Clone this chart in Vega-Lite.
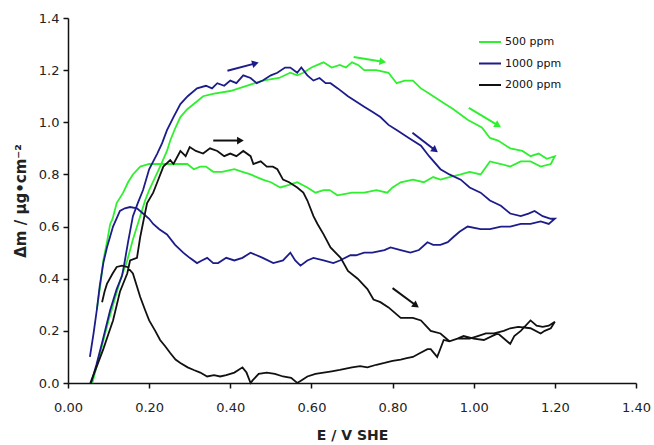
{
  "$schema": "https://vega.github.io/schema/vega-lite/v6.json",
  "width": 568,
  "height": 365,
  "autosize": {"type": "none"},
  "padding": {"left": 68, "top": 18, "right": 18, "bottom": 62},
  "background": "white",
  "config": {
    "view": {"stroke": null},
    "font": "DejaVu Sans",
    "axis": {"grid": false, "domainColor": "#111", "tickColor": "#111", "domainWidth": 1.5, "tickWidth": 1.5, "tickSize": 5, "labelColor": "#222", "labelFont": "DejaVu Sans", "labelFontSize": 13, "titleFont": "DejaVu Sans", "titleFontWeight": "bold", "titleFontSize": 15, "titleColor": "#222", "labelFlush": false}
  },
  "datasets": {
    "curves": [
      {"s":"500 ppm","x":0.06,"y":0.00},{"s":"500 ppm","x":0.07,"y":0.06},{"s":"500 ppm","x":0.085,"y":0.15},{"s":"500 ppm","x":0.10,"y":0.24},{"s":"500 ppm","x":0.115,"y":0.32},{"s":"500 ppm","x":0.13,"y":0.40},{"s":"500 ppm","x":0.146,"y":0.47},{"s":"500 ppm","x":0.16,"y":0.55},{"s":"500 ppm","x":0.178,"y":0.64},{"s":"500 ppm","x":0.19,"y":0.70},{"s":"500 ppm","x":0.20,"y":0.74},{"s":"500 ppm","x":0.215,"y":0.79},{"s":"500 ppm","x":0.227,"y":0.83},{"s":"500 ppm","x":0.244,"y":0.89},{"s":"500 ppm","x":0.252,"y":0.93},{"s":"500 ppm","x":0.265,"y":0.98},{"s":"500 ppm","x":0.277,"y":1.02},{"s":"500 ppm","x":0.294,"y":1.05},{"s":"500 ppm","x":0.31,"y":1.07},{"s":"500 ppm","x":0.333,"y":1.10},{"s":"500 ppm","x":0.36,"y":1.11},{"s":"500 ppm","x":0.40,"y":1.12},{"s":"500 ppm","x":0.44,"y":1.14},{"s":"500 ppm","x":0.48,"y":1.16},{"s":"500 ppm","x":0.52,"y":1.17},{"s":"500 ppm","x":0.548,"y":1.19},{"s":"500 ppm","x":0.565,"y":1.18},{"s":"500 ppm","x":0.58,"y":1.19},{"s":"500 ppm","x":0.60,"y":1.21},{"s":"500 ppm","x":0.615,"y":1.22},{"s":"500 ppm","x":0.63,"y":1.23},{"s":"500 ppm","x":0.65,"y":1.21},{"s":"500 ppm","x":0.67,"y":1.22},{"s":"500 ppm","x":0.685,"y":1.21},{"s":"500 ppm","x":0.70,"y":1.23},{"s":"500 ppm","x":0.715,"y":1.22},{"s":"500 ppm","x":0.73,"y":1.20},{"s":"500 ppm","x":0.76,"y":1.20},{"s":"500 ppm","x":0.79,"y":1.19},{"s":"500 ppm","x":0.81,"y":1.15},{"s":"500 ppm","x":0.83,"y":1.16},{"s":"500 ppm","x":0.85,"y":1.16},{"s":"500 ppm","x":0.87,"y":1.13},{"s":"500 ppm","x":0.89,"y":1.11},{"s":"500 ppm","x":0.92,"y":1.08},{"s":"500 ppm","x":0.95,"y":1.05},{"s":"500 ppm","x":0.985,"y":1.01},{"s":"500 ppm","x":1.02,"y":0.98},{"s":"500 ppm","x":1.04,"y":0.94},{"s":"500 ppm","x":1.06,"y":0.93},{"s":"500 ppm","x":1.09,"y":0.90},{"s":"500 ppm","x":1.12,"y":0.89},{"s":"500 ppm","x":1.14,"y":0.87},{"s":"500 ppm","x":1.16,"y":0.88},{"s":"500 ppm","x":1.18,"y":0.86},{"s":"500 ppm","x":1.20,"y":0.87},{"s":"500 ppm","x":1.19,"y":0.84},{"s":"500 ppm","x":1.165,"y":0.83},{"s":"500 ppm","x":1.14,"y":0.85},{"s":"500 ppm","x":1.116,"y":0.85},{"s":"500 ppm","x":1.09,"y":0.83},{"s":"500 ppm","x":1.067,"y":0.84},{"s":"500 ppm","x":1.04,"y":0.85},{"s":"500 ppm","x":1.017,"y":0.80},{"s":"500 ppm","x":0.99,"y":0.81},{"s":"500 ppm","x":0.968,"y":0.80},{"s":"500 ppm","x":0.94,"y":0.79},{"s":"500 ppm","x":0.918,"y":0.78},{"s":"500 ppm","x":0.90,"y":0.79},{"s":"500 ppm","x":0.877,"y":0.77},{"s":"500 ppm","x":0.85,"y":0.78},{"s":"500 ppm","x":0.82,"y":0.77},{"s":"500 ppm","x":0.80,"y":0.75},{"s":"500 ppm","x":0.787,"y":0.73},{"s":"500 ppm","x":0.76,"y":0.74},{"s":"500 ppm","x":0.73,"y":0.73},{"s":"500 ppm","x":0.70,"y":0.73},{"s":"500 ppm","x":0.664,"y":0.72},{"s":"500 ppm","x":0.645,"y":0.74},{"s":"500 ppm","x":0.63,"y":0.74},{"s":"500 ppm","x":0.61,"y":0.73},{"s":"500 ppm","x":0.59,"y":0.75},{"s":"500 ppm","x":0.565,"y":0.77},{"s":"500 ppm","x":0.545,"y":0.76},{"s":"500 ppm","x":0.523,"y":0.75},{"s":"500 ppm","x":0.50,"y":0.77},{"s":"500 ppm","x":0.48,"y":0.78},{"s":"500 ppm","x":0.45,"y":0.80},{"s":"500 ppm","x":0.43,"y":0.81},{"s":"500 ppm","x":0.41,"y":0.82},{"s":"500 ppm","x":0.38,"y":0.81},{"s":"500 ppm","x":0.358,"y":0.81},{"s":"500 ppm","x":0.34,"y":0.83},{"s":"500 ppm","x":0.326,"y":0.83},{"s":"500 ppm","x":0.31,"y":0.82},{"s":"500 ppm","x":0.294,"y":0.84},{"s":"500 ppm","x":0.26,"y":0.84},{"s":"500 ppm","x":0.227,"y":0.84},{"s":"500 ppm","x":0.20,"y":0.84},{"s":"500 ppm","x":0.178,"y":0.83},{"s":"500 ppm","x":0.16,"y":0.80},{"s":"500 ppm","x":0.148,"y":0.77},{"s":"500 ppm","x":0.136,"y":0.73},{"s":"500 ppm","x":0.12,"y":0.69},{"s":"500 ppm","x":0.11,"y":0.63},{"s":"500 ppm","x":0.104,"y":0.61},{"s":"500 ppm","x":0.096,"y":0.54},{"s":"500 ppm","x":0.087,"y":0.47},{"s":"500 ppm","x":0.08,"y":0.38},{"s":"500 ppm","x":0.071,"y":0.28},

      {"s":"1000 ppm","x":0.057,"y":0.00},{"s":"1000 ppm","x":0.07,"y":0.07},{"s":"1000 ppm","x":0.085,"y":0.16},{"s":"1000 ppm","x":0.104,"y":0.28},{"s":"1000 ppm","x":0.12,"y":0.36},{"s":"1000 ppm","x":0.133,"y":0.41},{"s":"1000 ppm","x":0.138,"y":0.45},{"s":"1000 ppm","x":0.148,"y":0.54},{"s":"1000 ppm","x":0.16,"y":0.64},{"s":"1000 ppm","x":0.172,"y":0.69},{"s":"1000 ppm","x":0.185,"y":0.74},{"s":"1000 ppm","x":0.20,"y":0.82},{"s":"1000 ppm","x":0.22,"y":0.88},{"s":"1000 ppm","x":0.232,"y":0.92},{"s":"1000 ppm","x":0.244,"y":0.97},{"s":"1000 ppm","x":0.26,"y":1.02},{"s":"1000 ppm","x":0.277,"y":1.07},{"s":"1000 ppm","x":0.295,"y":1.10},{"s":"1000 ppm","x":0.318,"y":1.13},{"s":"1000 ppm","x":0.34,"y":1.14},{"s":"1000 ppm","x":0.355,"y":1.13},{"s":"1000 ppm","x":0.368,"y":1.15},{"s":"1000 ppm","x":0.385,"y":1.14},{"s":"1000 ppm","x":0.40,"y":1.16},{"s":"1000 ppm","x":0.415,"y":1.15},{"s":"1000 ppm","x":0.432,"y":1.18},{"s":"1000 ppm","x":0.45,"y":1.17},{"s":"1000 ppm","x":0.465,"y":1.15},{"s":"1000 ppm","x":0.48,"y":1.16},{"s":"1000 ppm","x":0.50,"y":1.18},{"s":"1000 ppm","x":0.516,"y":1.19},{"s":"1000 ppm","x":0.535,"y":1.21},{"s":"1000 ppm","x":0.548,"y":1.21},{"s":"1000 ppm","x":0.565,"y":1.19},{"s":"1000 ppm","x":0.575,"y":1.21},{"s":"1000 ppm","x":0.59,"y":1.18},{"s":"1000 ppm","x":0.605,"y":1.16},{"s":"1000 ppm","x":0.62,"y":1.17},{"s":"1000 ppm","x":0.635,"y":1.15},{"s":"1000 ppm","x":0.647,"y":1.15},{"s":"1000 ppm","x":0.665,"y":1.13},{"s":"1000 ppm","x":0.69,"y":1.10},{"s":"1000 ppm","x":0.71,"y":1.08},{"s":"1000 ppm","x":0.73,"y":1.06},{"s":"1000 ppm","x":0.75,"y":1.04},{"s":"1000 ppm","x":0.77,"y":1.02},{"s":"1000 ppm","x":0.79,"y":0.99},{"s":"1000 ppm","x":0.81,"y":0.97},{"s":"1000 ppm","x":0.84,"y":0.94},{"s":"1000 ppm","x":0.87,"y":0.91},{"s":"1000 ppm","x":0.89,"y":0.87},{"s":"1000 ppm","x":0.918,"y":0.82},{"s":"1000 ppm","x":0.94,"y":0.80},{"s":"1000 ppm","x":0.968,"y":0.78},{"s":"1000 ppm","x":0.99,"y":0.75},{"s":"1000 ppm","x":1.017,"y":0.73},{"s":"1000 ppm","x":1.04,"y":0.70},{"s":"1000 ppm","x":1.067,"y":0.68},{"s":"1000 ppm","x":1.09,"y":0.65},{"s":"1000 ppm","x":1.116,"y":0.64},{"s":"1000 ppm","x":1.135,"y":0.65},{"s":"1000 ppm","x":1.15,"y":0.66},{"s":"1000 ppm","x":1.17,"y":0.64},{"s":"1000 ppm","x":1.19,"y":0.63},{"s":"1000 ppm","x":1.20,"y":0.63},{"s":"1000 ppm","x":1.185,"y":0.61},{"s":"1000 ppm","x":1.165,"y":0.62},{"s":"1000 ppm","x":1.14,"y":0.61},{"s":"1000 ppm","x":1.116,"y":0.61},{"s":"1000 ppm","x":1.09,"y":0.60},{"s":"1000 ppm","x":1.067,"y":0.60},{"s":"1000 ppm","x":1.04,"y":0.59},{"s":"1000 ppm","x":1.017,"y":0.59},{"s":"1000 ppm","x":0.985,"y":0.60},{"s":"1000 ppm","x":0.965,"y":0.58},{"s":"1000 ppm","x":0.95,"y":0.56},{"s":"1000 ppm","x":0.936,"y":0.54},{"s":"1000 ppm","x":0.918,"y":0.53},{"s":"1000 ppm","x":0.90,"y":0.53},{"s":"1000 ppm","x":0.886,"y":0.54},{"s":"1000 ppm","x":0.865,"y":0.51},{"s":"1000 ppm","x":0.844,"y":0.50},{"s":"1000 ppm","x":0.82,"y":0.51},{"s":"1000 ppm","x":0.795,"y":0.52},{"s":"1000 ppm","x":0.78,"y":0.51},{"s":"1000 ppm","x":0.75,"y":0.50},{"s":"1000 ppm","x":0.73,"y":0.50},{"s":"1000 ppm","x":0.71,"y":0.49},{"s":"1000 ppm","x":0.696,"y":0.49},{"s":"1000 ppm","x":0.67,"y":0.47},{"s":"1000 ppm","x":0.654,"y":0.46},{"s":"1000 ppm","x":0.63,"y":0.47},{"s":"1000 ppm","x":0.605,"y":0.48},{"s":"1000 ppm","x":0.59,"y":0.47},{"s":"1000 ppm","x":0.573,"y":0.45},{"s":"1000 ppm","x":0.56,"y":0.47},{"s":"1000 ppm","x":0.548,"y":0.50},{"s":"1000 ppm","x":0.53,"y":0.47},{"s":"1000 ppm","x":0.506,"y":0.46},{"s":"1000 ppm","x":0.48,"y":0.48},{"s":"1000 ppm","x":0.45,"y":0.50},{"s":"1000 ppm","x":0.43,"y":0.48},{"s":"1000 ppm","x":0.41,"y":0.47},{"s":"1000 ppm","x":0.39,"y":0.48},{"s":"1000 ppm","x":0.37,"y":0.46},{"s":"1000 ppm","x":0.358,"y":0.46},{"s":"1000 ppm","x":0.343,"y":0.48},{"s":"1000 ppm","x":0.33,"y":0.47},{"s":"1000 ppm","x":0.318,"y":0.46},{"s":"1000 ppm","x":0.30,"y":0.48},{"s":"1000 ppm","x":0.284,"y":0.50},{"s":"1000 ppm","x":0.264,"y":0.53},{"s":"1000 ppm","x":0.244,"y":0.57},{"s":"1000 ppm","x":0.225,"y":0.59},{"s":"1000 ppm","x":0.21,"y":0.61},{"s":"1000 ppm","x":0.20,"y":0.63},{"s":"1000 ppm","x":0.185,"y":0.65},{"s":"1000 ppm","x":0.17,"y":0.67},{"s":"1000 ppm","x":0.153,"y":0.675},{"s":"1000 ppm","x":0.14,"y":0.67},{"s":"1000 ppm","x":0.128,"y":0.66},{"s":"1000 ppm","x":0.111,"y":0.60},{"s":"1000 ppm","x":0.096,"y":0.52},{"s":"1000 ppm","x":0.087,"y":0.46},{"s":"1000 ppm","x":0.078,"y":0.37},{"s":"1000 ppm","x":0.071,"y":0.28},{"s":"1000 ppm","x":0.063,"y":0.19},{"s":"1000 ppm","x":0.054,"y":0.10},

      {"s":"2000 ppm","x":0.055,"y":0.00},{"s":"2000 ppm","x":0.07,"y":0.06},{"s":"2000 ppm","x":0.087,"y":0.13},{"s":"2000 ppm","x":0.10,"y":0.19},{"s":"2000 ppm","x":0.111,"y":0.24},{"s":"2000 ppm","x":0.128,"y":0.35},{"s":"2000 ppm","x":0.146,"y":0.42},{"s":"2000 ppm","x":0.153,"y":0.47},{"s":"2000 ppm","x":0.17,"y":0.48},{"s":"2000 ppm","x":0.178,"y":0.56},{"s":"2000 ppm","x":0.187,"y":0.63},{"s":"2000 ppm","x":0.195,"y":0.69},{"s":"2000 ppm","x":0.21,"y":0.73},{"s":"2000 ppm","x":0.22,"y":0.77},{"s":"2000 ppm","x":0.235,"y":0.83},{"s":"2000 ppm","x":0.252,"y":0.855},{"s":"2000 ppm","x":0.26,"y":0.84},{"s":"2000 ppm","x":0.277,"y":0.89},{"s":"2000 ppm","x":0.29,"y":0.87},{"s":"2000 ppm","x":0.30,"y":0.905},{"s":"2000 ppm","x":0.315,"y":0.89},{"s":"2000 ppm","x":0.333,"y":0.88},{"s":"2000 ppm","x":0.35,"y":0.90},{"s":"2000 ppm","x":0.368,"y":0.89},{"s":"2000 ppm","x":0.385,"y":0.87},{"s":"2000 ppm","x":0.40,"y":0.88},{"s":"2000 ppm","x":0.415,"y":0.87},{"s":"2000 ppm","x":0.432,"y":0.89},{"s":"2000 ppm","x":0.45,"y":0.87},{"s":"2000 ppm","x":0.457,"y":0.84},{"s":"2000 ppm","x":0.475,"y":0.85},{"s":"2000 ppm","x":0.49,"y":0.83},{"s":"2000 ppm","x":0.505,"y":0.83},{"s":"2000 ppm","x":0.516,"y":0.82},{"s":"2000 ppm","x":0.53,"y":0.78},{"s":"2000 ppm","x":0.545,"y":0.77},{"s":"2000 ppm","x":0.565,"y":0.75},{"s":"2000 ppm","x":0.58,"y":0.73},{"s":"2000 ppm","x":0.59,"y":0.70},{"s":"2000 ppm","x":0.605,"y":0.64},{"s":"2000 ppm","x":0.615,"y":0.61},{"s":"2000 ppm","x":0.63,"y":0.57},{"s":"2000 ppm","x":0.647,"y":0.52},{"s":"2000 ppm","x":0.672,"y":0.48},{"s":"2000 ppm","x":0.69,"y":0.43},{"s":"2000 ppm","x":0.714,"y":0.40},{"s":"2000 ppm","x":0.738,"y":0.36},{"s":"2000 ppm","x":0.753,"y":0.32},{"s":"2000 ppm","x":0.77,"y":0.31},{"s":"2000 ppm","x":0.79,"y":0.29},{"s":"2000 ppm","x":0.805,"y":0.27},{"s":"2000 ppm","x":0.82,"y":0.25},{"s":"2000 ppm","x":0.85,"y":0.25},{"s":"2000 ppm","x":0.87,"y":0.24},{"s":"2000 ppm","x":0.894,"y":0.20},{"s":"2000 ppm","x":0.918,"y":0.19},{"s":"2000 ppm","x":0.94,"y":0.16},{"s":"2000 ppm","x":0.96,"y":0.17},{"s":"2000 ppm","x":0.975,"y":0.18},{"s":"2000 ppm","x":1.00,"y":0.17},{"s":"2000 ppm","x":1.025,"y":0.165},{"s":"2000 ppm","x":1.045,"y":0.18},{"s":"2000 ppm","x":1.06,"y":0.19},{"s":"2000 ppm","x":1.09,"y":0.15},{"s":"2000 ppm","x":1.10,"y":0.18},{"s":"2000 ppm","x":1.116,"y":0.20},{"s":"2000 ppm","x":1.14,"y":0.24},{"s":"2000 ppm","x":1.155,"y":0.22},{"s":"2000 ppm","x":1.17,"y":0.215},{"s":"2000 ppm","x":1.185,"y":0.22},{"s":"2000 ppm","x":1.20,"y":0.235},{"s":"2000 ppm","x":1.19,"y":0.21},{"s":"2000 ppm","x":1.175,"y":0.20},{"s":"2000 ppm","x":1.165,"y":0.19},{"s":"2000 ppm","x":1.14,"y":0.21},{"s":"2000 ppm","x":1.11,"y":0.215},{"s":"2000 ppm","x":1.09,"y":0.21},{"s":"2000 ppm","x":1.074,"y":0.20},{"s":"2000 ppm","x":1.05,"y":0.19},{"s":"2000 ppm","x":1.03,"y":0.19},{"s":"2000 ppm","x":1.01,"y":0.18},{"s":"2000 ppm","x":0.99,"y":0.17},{"s":"2000 ppm","x":0.96,"y":0.17},{"s":"2000 ppm","x":0.94,"y":0.16},{"s":"2000 ppm","x":0.926,"y":0.165},{"s":"2000 ppm","x":0.915,"y":0.12},{"s":"2000 ppm","x":0.91,"y":0.10},{"s":"2000 ppm","x":0.894,"y":0.13},{"s":"2000 ppm","x":0.886,"y":0.13},{"s":"2000 ppm","x":0.868,"y":0.115},{"s":"2000 ppm","x":0.85,"y":0.10},{"s":"2000 ppm","x":0.835,"y":0.095},{"s":"2000 ppm","x":0.82,"y":0.09},{"s":"2000 ppm","x":0.80,"y":0.085},{"s":"2000 ppm","x":0.78,"y":0.077},{"s":"2000 ppm","x":0.76,"y":0.07},{"s":"2000 ppm","x":0.738,"y":0.06},{"s":"2000 ppm","x":0.72,"y":0.065},{"s":"2000 ppm","x":0.70,"y":0.06},{"s":"2000 ppm","x":0.685,"y":0.055},{"s":"2000 ppm","x":0.67,"y":0.05},{"s":"2000 ppm","x":0.65,"y":0.045},{"s":"2000 ppm","x":0.63,"y":0.04},{"s":"2000 ppm","x":0.61,"y":0.035},{"s":"2000 ppm","x":0.59,"y":0.025},{"s":"2000 ppm","x":0.575,"y":0.01},{"s":"2000 ppm","x":0.565,"y":0.0},{"s":"2000 ppm","x":0.55,"y":0.02},{"s":"2000 ppm","x":0.53,"y":0.025},{"s":"2000 ppm","x":0.51,"y":0.035},{"s":"2000 ppm","x":0.49,"y":0.04},{"s":"2000 ppm","x":0.47,"y":0.035},{"s":"2000 ppm","x":0.455,"y":0.01},{"s":"2000 ppm","x":0.45,"y":0.0},{"s":"2000 ppm","x":0.44,"y":0.04},{"s":"2000 ppm","x":0.43,"y":0.06},{"s":"2000 ppm","x":0.42,"y":0.05},{"s":"2000 ppm","x":0.41,"y":0.04},{"s":"2000 ppm","x":0.39,"y":0.03},{"s":"2000 ppm","x":0.375,"y":0.025},{"s":"2000 ppm","x":0.36,"y":0.03},{"s":"2000 ppm","x":0.343,"y":0.025},{"s":"2000 ppm","x":0.326,"y":0.04},{"s":"2000 ppm","x":0.31,"y":0.05},{"s":"2000 ppm","x":0.295,"y":0.06},{"s":"2000 ppm","x":0.277,"y":0.077},{"s":"2000 ppm","x":0.265,"y":0.09},{"s":"2000 ppm","x":0.252,"y":0.115},{"s":"2000 ppm","x":0.24,"y":0.14},{"s":"2000 ppm","x":0.227,"y":0.165},{"s":"2000 ppm","x":0.215,"y":0.20},{"s":"2000 ppm","x":0.20,"y":0.24},{"s":"2000 ppm","x":0.19,"y":0.28},{"s":"2000 ppm","x":0.178,"y":0.33},{"s":"2000 ppm","x":0.17,"y":0.37},{"s":"2000 ppm","x":0.16,"y":0.42},{"s":"2000 ppm","x":0.146,"y":0.445},{"s":"2000 ppm","x":0.133,"y":0.45},{"s":"2000 ppm","x":0.12,"y":0.445},{"s":"2000 ppm","x":0.11,"y":0.42},{"s":"2000 ppm","x":0.096,"y":0.38},{"s":"2000 ppm","x":0.09,"y":0.35},{"s":"2000 ppm","x":0.084,"y":0.31}
    ],
    "arrows": [
      {"a":1,"s":"1000 ppm","x":0.393,"y":1.198,"x2":0.462,"y2":1.226},
      {"a":2,"s":"500 ppm","x":0.704,"y":1.25,"x2":0.776,"y2":1.232},
      {"a":3,"s":"2000 ppm","x":0.358,"y":0.93,"x2":0.425,"y2":0.93},
      {"a":4,"s":"1000 ppm","x":0.849,"y":0.96,"x2":0.905,"y2":0.893},
      {"a":5,"s":"500 ppm","x":0.988,"y":1.055,"x2":1.06,"y2":0.988},
      {"a":6,"s":"2000 ppm","x":0.80,"y":0.364,"x2":0.858,"y2":0.297}
    ]
  },
  "layer": [
    {
      "data": {"name": "curves"},
      "transform": [{"window": [{"op": "row_number", "as": "i"}]}],
      "mark": {"type": "line", "strokeWidth": 1.8, "interpolate": "linear"},
      "encoding": {
        "x": {"field": "x", "type": "quantitative", "scale": {"domain": [0, 1.4], "nice": false, "zero": false},
              "axis": {"title": "E / V SHE", "titleFontSize": 14, "values": [0, 0.2, 0.4, 0.6, 0.8, 1.0, 1.2, 1.4], "format": ".2f", "labelPadding": 13, "titlePadding": 14}},
        "y": {"field": "y", "type": "quantitative", "scale": {"domain": [0, 1.4], "nice": false, "zero": false},
              "axis": {"title": "Δm / μg•cm⁻²", "values": [0, 0.2, 0.4, 0.6, 0.8, 1.0, 1.2, 1.4], "format": ".1f", "labelPadding": 4, "titlePadding": 10}},
        "color": {"field": "s", "type": "nominal",
                  "scale": {"domain": ["500 ppm", "1000 ppm", "2000 ppm"], "range": ["#2EF02E", "#1C1C8A", "#111111"]},
                  "legend": {"title": null, "orient": "none", "legendX": 410, "legendY": 12, "symbolType": "stroke", "symbolSize": 484, "symbolStrokeWidth": 2, "labelFontSize": 11, "labelFont": "DejaVu Sans", "labelColor": "#111", "labelOffset": 3, "rowPadding": 4.5}},
        "detail": {"field": "s"},
        "order": {"field": "i", "type": "quantitative"}
      }
    },
    {
      "data": {"name": "arrows"},
      "mark": {"type": "rule", "strokeWidth": 2},
      "encoding": {
        "x": {"field": "x", "type": "quantitative"},
        "y": {"field": "y", "type": "quantitative"},
        "x2": {"field": "x2"},
        "y2": {"field": "y2"},
        "color": {"field": "s", "type": "nominal", "legend": null}
      }
    },
    {"data": {"name": "arrows"}, "transform": [{"filter": "datum.a == 1"}], "mark": {"type": "point", "shape": "triangle-right", "filled": true, "size": 60, "angle": -15, "opacity": 1},
     "encoding": {"x": {"field": "x2", "type": "quantitative"}, "y": {"field": "y2", "type": "quantitative"}, "color": {"field": "s", "type": "nominal", "legend": null}}},
    {"data": {"name": "arrows"}, "transform": [{"filter": "datum.a == 2"}], "mark": {"type": "point", "shape": "triangle-right", "filled": true, "size": 60, "angle": 9, "opacity": 1},
     "encoding": {"x": {"field": "x2", "type": "quantitative"}, "y": {"field": "y2", "type": "quantitative"}, "color": {"field": "s", "type": "nominal", "legend": null}}},
    {"data": {"name": "arrows"}, "transform": [{"filter": "datum.a == 3"}], "mark": {"type": "point", "shape": "triangle-right", "filled": true, "size": 60, "angle": 0, "opacity": 1},
     "encoding": {"x": {"field": "x2", "type": "quantitative"}, "y": {"field": "y2", "type": "quantitative"}, "color": {"field": "s", "type": "nominal", "legend": null}}},
    {"data": {"name": "arrows"}, "transform": [{"filter": "datum.a == 4"}], "mark": {"type": "point", "shape": "triangle-right", "filled": true, "size": 60, "angle": 37, "opacity": 1},
     "encoding": {"x": {"field": "x2", "type": "quantitative"}, "y": {"field": "y2", "type": "quantitative"}, "color": {"field": "s", "type": "nominal", "legend": null}}},
    {"data": {"name": "arrows"}, "transform": [{"filter": "datum.a == 5"}], "mark": {"type": "point", "shape": "triangle-right", "filled": true, "size": 60, "angle": 31, "opacity": 1},
     "encoding": {"x": {"field": "x2", "type": "quantitative"}, "y": {"field": "y2", "type": "quantitative"}, "color": {"field": "s", "type": "nominal", "legend": null}}},
    {"data": {"name": "arrows"}, "transform": [{"filter": "datum.a == 6"}], "mark": {"type": "point", "shape": "triangle-right", "filled": true, "size": 60, "angle": 36, "opacity": 1},
     "encoding": {"x": {"field": "x2", "type": "quantitative"}, "y": {"field": "y2", "type": "quantitative"}, "color": {"field": "s", "type": "nominal", "legend": null}}}
  ]
}
